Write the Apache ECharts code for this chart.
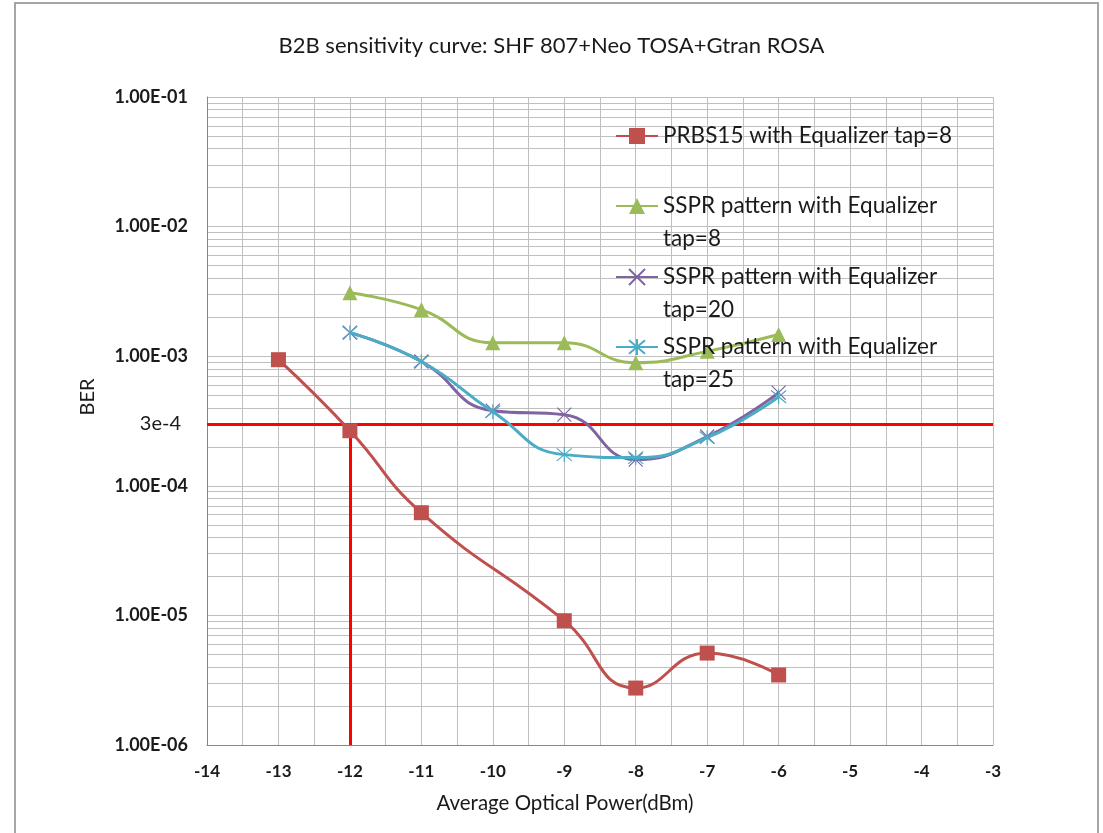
<!DOCTYPE html>
<html>
<head>
<meta charset="utf-8">
<script src="https://cdn.jsdelivr.net/npm/echarts@6/dist/echarts.min.js"></script>
<style>
  html, body { margin: 0; padding: 0; background: #ffffff; }
  #chart { width: 1103px; height: 833px; }
</style>
</head>
<body>
<div id="chart"></div>
<script>
// Average optical power (dBm) at each measurement
const power = [-13, -12, -11, -10, -9, -8, -7, -6];

// Measured bit error rates (null = not measured)
const prbs15Tap8 = [9.4e-4, 2.66e-4, 6.2e-5, null, 9.1e-6, 2.75e-6, 5.12e-6, 3.47e-6];
const ssprTap8   = [null, 3.09e-3, 2.29e-3, 1.27e-3, 1.27e-3, 8.9e-4, 1.09e-3, 1.47e-3];
const ssprTap20  = [null, 1.52e-3, 9.1e-4, 3.8e-4, 3.54e-4, 1.59e-4, 2.4e-4, 5.23e-4];
const ssprTap25  = [null, 1.52e-3, 9.1e-4, 3.73e-4, 1.74e-4, 1.65e-4, 2.35e-4, 4.87e-4];

// Sensitivity threshold and the power where PRBS15 crosses it
const berLimit = 3e-4;
const berLimitLabel = '3e-4';
const limitPower = -12;

// Axis tick labels
const berTickLabels = ['1.00E-06', '1.00E-05', '1.00E-04', '1.00E-03', '1.00E-02', '1.00E-01'];
const powerMin = -14, powerMax = -3;
const berMin = 1e-6, berMax = 1e-1;

const seriesNames = [
  'PRBS15 with Equalizer tap=8',
  'SSPR pattern with Equalizer tap=8',
  'SSPR pattern with Equalizer tap=20',
  'SSPR pattern with Equalizer tap=25'
];
const legendText = [
  'PRBS15 with Equalizer tap=8',
  ' \nSSPR pattern with Equalizer\ntap=8',
  ' \nSSPR pattern with Equalizer\ntap=20',
  ' \nSSPR pattern with Equalizer\ntap=25'
];

const FONT = 'Lato';
const GRID = '#BFBFBF';

function pairs(vals) {
  return power.map((x, i) => [x, vals[i]]).filter(p => p[1] != null);
}

// Horizontal line across the whole plot at a given BER
function hLine(v) {
  return [{ coord: [powerMin, v] }, { coord: [powerMax, v] }];
}

// Log-scale minor grid lines (2..9 within each decade)
const minorBer = [];
for (let k = -6; k <= -2; k++) {
  for (let m = 2; m <= 9; m++) minorBer.push(hLine(m * Math.pow(10, k)));
}

const crossPath = 'path://M0,0L10,10M10,0L0,10';
const starPath = 'path://M0,0L10,10M10,0L0,10M5,-1L5,11';

function dataSeries(name, vals, color, symbol, size, z) {
  const stroked = symbol.indexOf('path://') === 0;
  return {
    name: name,
    type: 'line',
    data: pairs(vals),
    smooth: 0.5,
    symbol: symbol,
    symbolSize: size,
    showAllSymbol: true,
    z: z,
    lineStyle: { color: color, width: 3 },
    itemStyle: stroked
      ? { color: 'rgba(0,0,0,0)', borderColor: color, borderWidth: 1.2 }
      : { color: color },
    emphasis: { disabled: true },
    animation: false
  };
}

const lineColors = ['#C0504D', '#9BBB59', '#8064A2', '#4BACC6'];
const legendCenters = [136, 206, 277, 347];
const LEGEND_LH = 33;

const legends = seriesNames.map((name, i) => ({
  data: [name],
  left: 615,
  top: legendCenters[i] - (i === 0 ? LEGEND_LH / 2 : LEGEND_LH * 1.5),
  padding: 0,
  itemWidth: 42,
  itemHeight: 20,
  selectedMode: false,
  z: 10,
  formatter: () => legendText[i],
  textStyle: { fontFamily: FONT, fontSize: 22.5, color: '#1a1a1a', lineHeight: LEGEND_LH }
}));

const option = {
  backgroundColor: '#ffffff',
  animation: false,
  title: {
    text: 'B2B sensitivity curve: SHF 807+Neo TOSA+Gtran ROSA',
    left: 'center',
    top: 35,
    padding: 0,
    textStyle: { fontFamily: FONT, fontSize: 22, fontWeight: 'normal', color: '#1a1a1a' }
  },
  legend: legends,
  grid: { left: 207, right: 110, top: 97, bottom: 88, containLabel: false },
  xAxis: {
    type: 'value',
    min: powerMin,
    max: powerMax,
    interval: 1,
    name: 'Average Optical Power(dBm)',
    nameLocation: 'middle',
    nameGap: 48,
    nameTextStyle: { fontFamily: FONT, fontSize: 20.5, color: '#1a1a1a', padding: [0, 70, 0, 0] },
    axisLine: { show: true, onZero: false, lineStyle: { color: '#868686', width: 1 } },
    axisTick: { show: false },
    axisLabel: { margin: 18, fontFamily: FONT, fontSize: 17, fontWeight: 'bold', color: '#1a1a1a' },
    splitLine: { show: true, lineStyle: { color: GRID, width: 1 } },
    minorTick: { show: false, splitNumber: 2 },
    minorSplitLine: { show: true, lineStyle: { color: GRID, width: 1 } }
  },
  yAxis: {
    type: 'log',
    logBase: 10,
    min: berMin,
    max: berMax,
    name: 'BER',
    nameLocation: 'middle',
    nameGap: 109,
    nameTextStyle: { fontFamily: FONT, fontSize: 20, color: '#1a1a1a', padding: [0, 0, 0, 48] },
    axisLine: { show: true, lineStyle: { color: '#868686', width: 1 } },
    axisTick: { show: false },
    axisLabel: {
      margin: 19,
      fontFamily: FONT,
      fontSize: 18,
      fontWeight: 'bold',
      color: '#1a1a1a',
      formatter: v => berTickLabels[Math.round(Math.log10(v)) + 6] || ''
    },
    splitLine: { show: true, lineStyle: { color: GRID, width: 1 } }
  },
  graphic: [{
    type: 'rect',
    shape: { x: 15, y: 3, width: 1083, height: 860 },
    style: { fill: 'none', stroke: '#A6A6A6', lineWidth: 2 },
    silent: true,
    z: -10
  }],
  series: [
    {
      name: 'minor-grid',
      type: 'line',
      data: [],
      silent: true,
      z: 0,
      markLine: {
        silent: true,
        z: 0,
        symbol: 'none',
        animation: false,
        label: { show: false },
        lineStyle: { color: GRID, width: 1, type: 'solid' },
        emphasis: { disabled: true },
        data: minorBer
      }
    },
    {
      name: 'threshold',
      type: 'line',
      data: [],
      silent: true,
      z: 1,
      markLine: {
        silent: true,
        z: 1,
        symbol: 'none',
        animation: false,
        lineStyle: { color: '#FF0000', width: 3, type: 'solid' },
        emphasis: { disabled: true },
        data: [
          [
            {
              coord: [powerMin, berLimit],
              label: {
                show: true,
                position: 'start',
                distance: 26,
                formatter: berLimitLabel,
                fontFamily: FONT,
                fontSize: 20,
                color: '#1a1a1a'
              }
            },
            { coord: [powerMax, berLimit] }
          ],
          [
            { coord: [limitPower, berLimit], label: { show: false } },
            { coord: [limitPower, berMin] }
          ]
        ]
      }
    },
    dataSeries(seriesNames[0], prbs15Tap8, lineColors[0], 'rect', 15, 3),
    dataSeries(seriesNames[1], ssprTap8, lineColors[1], 'triangle', 15, 4),
    dataSeries(seriesNames[2], ssprTap20, lineColors[2], crossPath, 14, 5),
    dataSeries(seriesNames[3], ssprTap25, lineColors[3], starPath, 15, 6)
  ]
};

const chart = echarts.init(document.getElementById('chart'), null, { renderer: 'canvas' });
chart.setOption(option);
</script>
</body>
</html>
